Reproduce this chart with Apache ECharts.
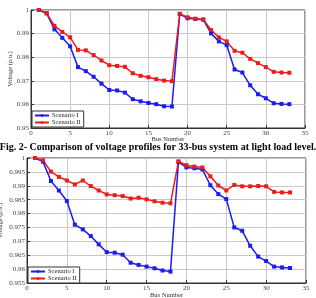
<!DOCTYPE html>
<html>
<head>
<meta charset="utf-8">
<script src="https://cdn.jsdelivr.net/npm/echarts@6/dist/echarts.min.js"></script>
<style>
  html, body { margin: 0; padding: 0; background: #fff; }
  #chart { width: 316px; height: 298px; }
</style>
</head>
<body>
<div id="chart"></div>
<script>
// bus numbers 1..33
var buses = [1, 2, 3, 4, 5, 6, 7, 8, 9, 10, 11, 12, 13, 14, 15, 16, 17,
  18, 19, 20, 21, 22, 23, 24, 25, 26, 27, 28, 29, 30, 31, 32, 33];

// top chart
var topScenario1 = [1.0, 0.9986, 0.9918, 0.9882, 0.9846, 0.9758, 0.9741, 0.9717, 0.9688, 0.9661,
  0.9659, 0.9650, 0.9622, 0.9613, 0.9606, 0.9601, 0.9592, 0.9591, 0.9983, 0.9965,
  0.9962, 0.9959, 0.9901, 0.9867, 0.9851, 0.9748, 0.9735, 0.9681, 0.9643, 0.9626,
  0.9605, 0.9602, 0.9601];
var topScenario2 = [1.0, 0.9986, 0.9933, 0.9907, 0.9884, 0.9831, 0.9829, 0.9809, 0.9786, 0.9766,
  0.9763, 0.9759, 0.9732, 0.9721, 0.9715, 0.9707, 0.9701, 0.9698, 0.9984, 0.9969,
  0.9963, 0.9960, 0.9915, 0.9884, 0.9867, 0.9827, 0.9819, 0.9793, 0.9775, 0.9758,
  0.9738, 0.9735, 0.9734];

// bottom chart
var botScenario1 = [1.0, 0.9987, 0.9917, 0.9883, 0.9845, 0.9760, 0.9743, 0.9719, 0.9689, 0.9661,
  0.9659, 0.9652, 0.9623, 0.9615, 0.9609, 0.9603, 0.9595, 0.9591, 0.9985, 0.9966,
  0.9963, 0.9959, 0.9902, 0.9870, 0.9852, 0.9750, 0.9738, 0.9684, 0.9645, 0.9629,
  0.9609, 0.9606, 0.9604];
var botScenario2 = [1.0, 0.9992, 0.9951, 0.9932, 0.9919, 0.9905, 0.9919, 0.9899, 0.9883, 0.9869,
  0.9866, 0.9863, 0.9854, 0.9857, 0.9851, 0.9844, 0.9839, 0.9837, 0.9988, 0.9974,
  0.9969, 0.9966, 0.9934, 0.9901, 0.9883, 0.9903, 0.9898, 0.9898, 0.9899, 0.9898,
  0.9878, 0.9876, 0.9876];

var seriesNames = ["Scenario I", "Scenario II"];
var caption = "Fig. 2- Comparison of voltage profiles for 33-bus system at light load level.";

var serif = "Liberation Serif";
var blue = "#1c1cf0";
var red = "#ea1c1c";

function pairs(vals) {
  return buses.map(function (b, i) { return [b, vals[i]]; });
}

function xAxisCfg(gi, gap) {
  return {
    type: "value", gridIndex: gi, min: 0, max: 35, interval: 5,
    name: "Bus Number", nameLocation: "middle", nameGap: gap, nameMoveOverlap: false,
    nameTextStyle: { fontFamily: serif, fontSize: 6.5, color: "#333" },
    axisLine: { show: true, onZero: false, lineStyle: { color: "#333", width: 1 } },
    axisTick: { show: true, inside: true, length: 3, lineStyle: { color: "#333" } },
    axisLabel: { fontFamily: serif, fontSize: 7, color: "#444", margin: 2,
      showMinLabel: true, showMaxLabel: true, hideOverlap: false },
    splitLine: { show: true, lineStyle: { color: "#c8c8c8", width: 1 } }
  };
}

function yAxisCfg(gi, min, interval, gap) {
  return {
    type: "value", gridIndex: gi, min: min, max: 1, interval: interval,
    name: "Voltage (p.u.)", nameLocation: "middle", nameGap: gap, nameRotate: 90,
    nameMoveOverlap: false,
    nameTextStyle: { fontFamily: serif, fontSize: 6.5, color: "#333" },
    axisLine: { show: true, lineStyle: { color: "#333", width: 1 } },
    axisTick: { show: true, inside: true, length: 3, lineStyle: { color: "#333" } },
    axisLabel: { fontFamily: serif, fontSize: 7, color: "#444", margin: 2,
      showMinLabel: true, showMaxLabel: true, hideOverlap: false },
    splitLine: { show: true, lineStyle: { color: "#c8c8c8", width: 1 } }
  };
}

function lineSeries(name, color, vals, idx) {
  return {
    name: name, type: "line", xAxisIndex: idx, yAxisIndex: idx,
    data: pairs(vals), symbol: "rect", symbolSize: 4, showSymbol: true,
    itemStyle: { color: color }, lineStyle: { color: color, width: 1.5 },
    animation: false
  };
}

function legendCfg(left, top) {
  return {
    data: seriesNames, orient: "vertical", left: left, top: top,
    itemWidth: 14, itemHeight: 3, itemGap: 0, padding: [1, 3, 1, 2],
    backgroundColor: "#fff", borderColor: "#333", borderWidth: 1, borderRadius: 0,
    textStyle: { fontFamily: serif, fontSize: 6.5, lineHeight: 7, color: "#222", padding: [0, 0, 0, -2] }
  };
}

var chart = echarts.init(document.getElementById("chart"));
chart.setOption({
  backgroundColor: "#fff",
  animation: false,
  grid: [
    { left: 31, top: 10, right: 11, height: 118, show: true, borderColor: "#333", borderWidth: 1,
      outerBoundsMode: "none", containLabel: false },
    { left: 27, top: 158, right: 10, height: 125, show: true, borderColor: "#333", borderWidth: 1,
      outerBoundsMode: "none", containLabel: false }
  ],
  xAxis: [xAxisCfg(0, 8), xAxisCfg(1, 9)],
  yAxis: [yAxisCfg(0, 0.95, 0.01, 17), yAxisCfg(1, 0.955, 0.005, 23)],
  legend: [legendCfg(32, 111), legendCfg(28, 267)],
  graphic: [{
    type: "text", left: "center", top: 142,
    style: { text: caption, fontFamily: serif, fontWeight: "bold", fontSize: 10, fill: "#000" }
  }],
  series: [
    lineSeries(seriesNames[0], blue, topScenario1, 0),
    lineSeries(seriesNames[1], red, topScenario2, 0),
    lineSeries(seriesNames[0], blue, botScenario1, 1),
    lineSeries(seriesNames[1], red, botScenario2, 1)
  ]
});
</script>
</body>
</html>
